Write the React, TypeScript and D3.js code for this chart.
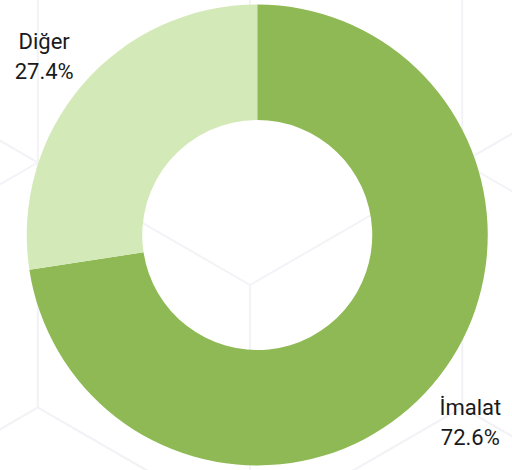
import React from "react";
import * as d3 from "d3";

const categories = ["İmalat", "Diğer"];
const values = [72.6, 27.4];
const percentLabels = ["72.6%", "27.4%"];
const colors = ["#8fb954", "#d4e9b8"];

const W = 512;
const H = 470;
const CX = 257.25;
const CY = 235;
const R_OUT = 230.5;
const R_IN = 115;
const R_LABEL = 281;

// decorative isometric-cube background
const HEX_S = 245;
const HEX_CX = 250;
const HEX_CY = 285;

function hexLines() {
  const lines: [number, number, number, number][] = [];
  const w = Math.sqrt(3) * HEX_S;
  for (let j = -2; j <= 2; j++) {
    for (let i = -3; i <= 3; i++) {
      const cx = HEX_CX + w * (i + j / 2);
      const cy = HEX_CY + 1.5 * HEX_S * j;
      const v = d3.range(6).map((k) => {
        const t = ((-90 + 60 * k) * Math.PI) / 180;
        return [cx + HEX_S * Math.cos(t), cy + HEX_S * Math.sin(t)];
      });
      for (let k = 0; k < 6; k++) {
        const a = v[k], b = v[(k + 1) % 6];
        lines.push([a[0], a[1], b[0], b[1]]);
      }
      [1, 3, 5].forEach((k) => lines.push([cx, cy, v[k][0], v[k][1]]));
    }
  }
  return lines;
}

export default function App() {
  const pie = d3.pie<number>().sort(null).value((d) => d);
  const arcs = pie(values);
  const arc = d3.arc<d3.PieArcDatum<number>>().innerRadius(R_IN).outerRadius(R_OUT);
  const labelArc = d3.arc<d3.PieArcDatum<number>>().innerRadius(R_LABEL).outerRadius(R_LABEL);
  const bg = hexLines();

  return (
    <svg
      width={W}
      height={H}
      style={{ position: "fixed", left: 0, top: 0, background: "#ffffff" }}
      fontFamily="Roboto, 'Noto Sans', sans-serif"
    >
      <g stroke="#f3f3f7" strokeWidth={2} fill="none">
        {bg.map((l, i) => (
          <line key={i} x1={l[0]} y1={l[1]} x2={l[2]} y2={l[3]} />
        ))}
      </g>
      <g transform={`translate(${CX},${CY})`}>
        {arcs.map((a, i) => (
          <path key={categories[i]} d={arc(a) || ""} fill={colors[i]} />
        ))}
        {arcs.map((a, i) => {
          const [lx, ly] = labelArc.centroid(a);
          return (
            <text key={"t" + i} x={lx} y={ly} textAnchor="middle" fontSize={22} fill="#1a1a1a">
              <tspan x={lx} dy={-3}>{categories[i]}</tspan>
              <tspan x={lx} dy={30}>{percentLabels[i]}</tspan>
            </text>
          );
        })}
      </g>
    </svg>
  );
}
